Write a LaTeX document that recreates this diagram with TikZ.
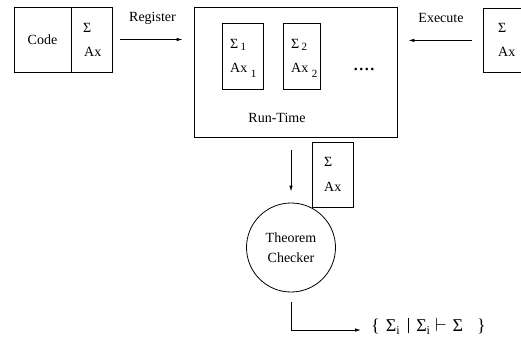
\documentclass[tikz,border=0pt]{standalone}
\usepackage{fontspec}
\setmainfont{Liberation Serif}
\usetikzlibrary{arrows.meta}
\newcommand{\sbs}[1]{\,\raisebox{-2.5pt}{\fontsize{11}{12}\selectfont #1}}
\newcommand{\sbsl}[1]{\ \raisebox{-5pt}{\fontsize{11}{12}\selectfont #1}}
\newcommand{\sbi}{\raisebox{-3pt}{\fontsize{12}{12}\selectfont i}}
\begin{document}
\begin{tikzpicture}[x=1pt,y=-1pt,
  font=\fontsize{14}{16}\selectfont,
  box/.style={draw, line width=0.8pt, inner sep=0pt},
  txt/.style={inner sep=0pt, anchor=west},
  arr/.style={-{Latex[length=6pt,width=3.5pt]}, line width=0.8pt}]
\clip (0,0) rectangle (521,338);
\useasboundingbox (0,0) rectangle (521,338);
% Code box
\node[box, minimum width=57pt, minimum height=65pt] (codeL) at (42.5,39.5) {Code};
\node[box, minimum width=41pt, minimum height=65pt] (codeR) at (91.5,39.5) {};
\node[txt] (codeS) at (83,28) {Σ};
\node[txt] (codeA) at (84,52) {Ax};
% Run-time box
\node[box, minimum width=203pt, minimum height=130pt] (rt) at (295.5,72) {};
\node[inner sep=0pt] (rtlabel) at (277,118) {Run-Time};
\node[box, minimum width=41pt, minimum height=66pt] (b1) at (242.5,56) {};
\node[txt] (b1S) at (230,45) {Σ\sbs{1}};
\node[txt] (b1A) at (230,70) {Ax\sbsl{1}};
\node[box, minimum width=37pt, minimum height=66pt] (b2) at (301.5,56) {};
\node[txt] (b2S) at (291,45) {Σ\sbs{2}};
\node[txt] (b2A) at (291,70) {Ax\sbsl{2}};
\node[inner sep=0pt, anchor=base west, font=\fontsize{22}{22}\selectfont] (dots) at (353,70) {....};
% Execute box (cut off at the right)
\node[box, minimum width=60pt, minimum height=64pt, anchor=north west] (ex) at (483,8) {};
\node[txt] (exS) at (498,28) {Σ};
\node[txt] (exA) at (498,52) {Ax};
% arrows
\draw[arr, shorten <=8pt, shorten >=11pt] (codeR.east) -- (codeR.east -| rt.west) coordinate (regEnd);
\node[inner sep=0pt] (reg) at (152.5,18) {Register};
\draw[arr, shorten <=11pt, shorten >=11pt] (ex.west) -- (ex.west -| rt.east) coordinate (exEnd);
\node[inner sep=0pt] (exl) at (441,18) {Execute};
% theorem checker
\node[draw, circle, line width=0.8pt, minimum size=89pt, inner sep=0pt, align=center, font=\fontsize{14}{20}\selectfont] (tc) at (291,247.5) {Theorem\\Checker};
\draw[arr, shorten <=13pt, shorten >=11pt] (rt.south -| tc.north) -- (tc.north);
\node[box, minimum width=41pt, minimum height=65pt] (sa) at (332.5,174.5) {};
\node[txt] (saS) at (324,162) {Σ};
\node[txt] (saA) at (324,187) {Ax};
% result
\node[inner sep=0pt, anchor=base west, font=\fontsize{18}{18}\selectfont] (res) at (371,331)
  {\{\hspace{6pt}Σ\sbi\hspace{8pt}\rule[-2pt]{0.6pt}{15pt}\hspace{8pt}Σ\sbi\hspace{5pt}\scalebox{1.1}{$\vdash$}\hspace{6pt}Σ\hspace{14pt}\}};
\coordinate (corner) at (tc.south |- 0,330);
\draw[arr, shorten <=10pt, shorten >=10pt] (tc.south) -- (corner) -- (corner -| res.west);
\end{tikzpicture}
\end{document}
